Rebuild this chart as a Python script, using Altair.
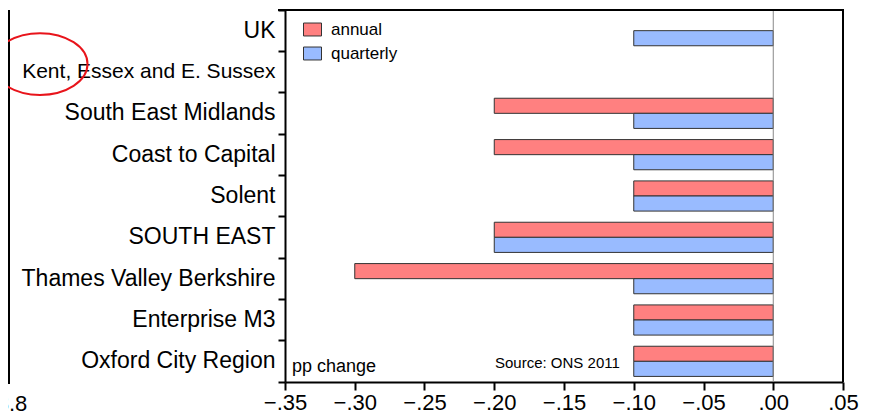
import altair as alt
import pandas as pd

regions = ["UK", "Kent, Essex and E. Sussex", "South East Midlands", "Coast to Capital",
           "Solent", "SOUTH EAST", "Thames Valley Berkshire", "Enterprise M3", "Oxford City Region"]
annual = [0.0, 0.0, -0.20, -0.20, -0.10, -0.20, -0.30, -0.10, -0.10]
quarterly = [-0.10, 0.0, -0.10, -0.10, -0.10, -0.20, -0.10, -0.10, -0.10]
series = ["annual", "quarterly"]
x_ticks = [-0.35, -0.30, -0.25, -0.20, -0.15, -0.10, -0.05, 0.00, 0.05]

rows = []
for r, a, q in zip(regions, annual, quarterly):
    rows.append({"region": r, "series": "annual", "value": a})
    rows.append({"region": r, "series": "quarterly", "value": q})
df = pd.DataFrame(rows)
df = df[df["value"] != 0]

FONT = "Liberation Sans"
W, H = 558, 372

label_size = {"condition": {"test": "datum.value == 'Kent, Essex and E. Sussex'", "value": 21},
              "value": 23}

yenc = alt.Y("region:N", sort=regions, title=None,
             scale=alt.Scale(domain=regions, paddingInner=0, paddingOuter=0),
             axis=alt.Axis(bandPosition=1, tickExtra=True,
                           labelFontSize=label_size, labelFont=FONT, labelColor="black",
                           labelPadding=3, tickSize=7, tickWidth=2, tickColor="black",
                           domainColor="black", domainWidth=2, grid=False,
                           labelLimit=400))
xscale = alt.Scale(domain=[-0.35, 0.05], nice=False, zero=False)
xaxis = alt.Axis(values=x_ticks,
                 labelExpr="replace(format(datum.value, '.2f'), '0.', '.')",
                 labelFontSize=22, labelFont=FONT, labelColor="black", labelPadding=2,
                 tickSize=8, tickWidth=2, tickColor="black", domainColor="black",
                 domainWidth=2, grid=False, title=None, labelFlush=False)

bars = alt.Chart(df).mark_bar(stroke="#333333", strokeWidth=1, opacity=1).encode(
    x=alt.X("value:Q", scale=xscale, axis=xaxis),
    x2=alt.X2(datum=0),
    y=yenc,
    yOffset=alt.YOffset("series:N", sort=series,
                        scale=alt.Scale(domain=series, paddingInner=0, paddingOuter=0.37)),
    color=alt.Color("series:N", sort=series,
                    scale=alt.Scale(domain=series, range=["#FF8080", "#99BBFF"]),
                    legend=alt.Legend(title=None, orient="none", legendX=18, legendY=10,
                                      symbolType="M -1 -0.72 L 1 -0.72 L 1 0.72 L -1 0.72 Z",
                                      symbolSize=324,
                                      symbolStrokeColor="#333333", symbolStrokeWidth=1,
                                      labelFontSize=17, labelFont=FONT, labelColor="black",
                                      rowPadding=6, labelOffset=9)),
)

zero = alt.Chart(pd.DataFrame({"v": [0]})).mark_rule(color="#888888", strokeWidth=1).encode(
    x=alt.X("v:Q", scale=xscale))

notes = pd.DataFrame({
    "x": [-0.345, -0.11],
    "region": ["Oxford City Region", "Oxford City Region"],
    "label": ["pp change", "Source: ONS 2011"],
})
pp = alt.Chart(notes.iloc[[0]]).mark_text(align="left", baseline="middle", fontSize=18,
                                          font=FONT, color="black", dy=6).encode(
    x=alt.X("x:Q", scale=xscale), y=alt.Y("region:N", sort=regions), text="label:N")
src = alt.Chart(notes.iloc[[1]]).mark_text(align="right", baseline="middle", fontSize=15,
                                           font=FONT, color="black", dy=2).encode(
    x=alt.X("x:Q", scale=xscale), y=alt.Y("region:N", sort=regions), text="label:N")

# frame: top and right borders
frame_top = alt.Chart(pd.DataFrame({"a": [0]})).mark_rule(color="black", strokeWidth=2).encode(
    x=alt.value(-7), x2=alt.value(W + 1), y=alt.value(0))
frame_right = alt.Chart(pd.DataFrame({"a": [0]})).mark_rule(color="black", strokeWidth=2).encode(
    x=alt.value(W), y=alt.value(0), y2=alt.value(H))

# fragment of the neighbouring panel's axis at the far left
left_rule = alt.Chart(pd.DataFrame({"a": [0]})).mark_rule(color="black", strokeWidth=2).encode(
    x=alt.value(-276), y=alt.value(0), y2=alt.value(H + 2))
left_tick = alt.Chart(pd.DataFrame({"t": ["3.8"]})).mark_text(
    fontSize=22, font=FONT, color="black", baseline="middle", align="center").encode(
    x=alt.value(-273), y=alt.value(H + 22), text="t:N")

# red highlight ellipse around "Kent, E"
ellipse = alt.Chart(pd.DataFrame({"region": ["Kent, Essex and E. Sussex"]})).mark_point(
    shape="M -1 0 A 1 0.65 0 1 0 1 0 A 1 0.65 0 1 0 -1 0",
    size=9025, stroke="#E8141B", strokeWidth=2, filled=False, opacity=1).encode(
    x=alt.value(-245), y=alt.value(54))

chart = alt.layer(bars, zero, pp, src, frame_top, frame_right, left_rule, left_tick,
                  ellipse).properties(
    width=W, height=H,
    autosize=alt.AutoSizeParams(type="none"),
    padding={"left": 277, "top": 2, "right": 26, "bottom": 33},
    background="white",
).configure_view(stroke=None)

chart.save("out.html", embed_options={"renderer": "svg", "actions": False})
